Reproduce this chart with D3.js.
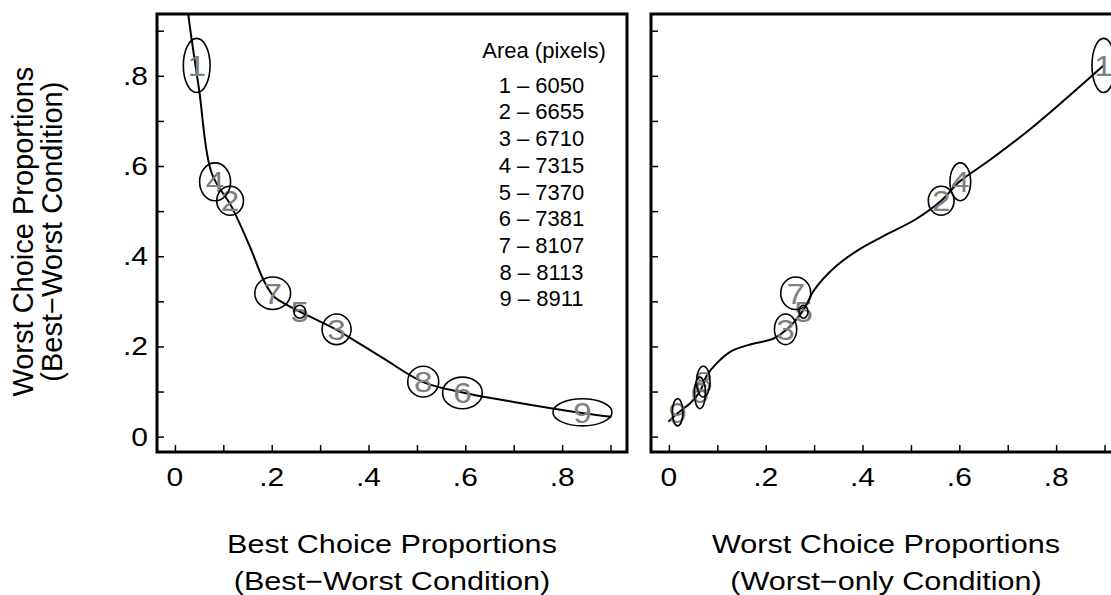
<!DOCTYPE html>
<html lang="en">
<head>
<meta charset="utf-8" />
<title>Best-worst choice proportions</title>
<script src="https://d3js.org/d3.v7.min.js"></script>
<style>
  body { margin: 0; background: #fff; }
  text { font-family: "Liberation Sans", Arial, sans-serif; fill: #000; }
</style>
</head>
<body>
<svg width="1111" height="595"></svg>
<script>
// items 1..9
const items = ["1", "2", "3", "4", "5", "6", "7", "8", "9"];
const areas = [6050, 6655, 6710, 7315, 7370, 7381, 8107, 8113, 8911];

// proportions
const bestBW    = [0.045, 0.114, 0.334, 0.083, 0.258, 0.594, 0.202, 0.513, 0.842];
const worstBW   = [0.823, 0.523, 0.238, 0.565, 0.277, 0.097, 0.318, 0.122, 0.054];
const worstOnly = [0.898, 0.5625, 0.241, 0.602, 0.278, 0.064, 0.262, 0.071, 0.018];

// ellipse half-widths (data units)
const bestBWErr    = [0.0276, 0.0276, 0.030, 0.032, 0.012, 0.041, 0.037, 0.032, 0.061];
const worstBWErr   = [0.060, 0.032, 0.034, 0.042, 0.0144, 0.035, 0.036, 0.034, 0.030];
const worstOnlyErr = [0.024, 0.0266, 0.023, 0.0214, 0.0093, 0.0114, 0.031, 0.014, 0.011];

// smooth curves
const leftCurveX = [0.022, 0.0275, 0.050, 0.076, 0.117, 0.155, 0.182, 0.205, 0.235, 0.279, 0.334, 0.430, 0.513, 0.594, 0.700, 0.844, 0.902];
const leftCurveY = [1.00, 0.937, 0.769, 0.584, 0.510, 0.421, 0.350, 0.310, 0.290, 0.266, 0.237, 0.174, 0.121, 0.098, 0.077, 0.052, 0.044];
const rightCurveX = [-0.001, 0.018, 0.045, 0.064, 0.078, 0.099, 0.130, 0.170, 0.215, 0.244, 0.278, 0.300, 0.340, 0.390, 0.440, 0.510, 0.5625, 0.600, 0.660, 0.750, 0.899];
const rightCurveY = [0.033, 0.052, 0.075, 0.100, 0.135, 0.163, 0.190, 0.205, 0.217, 0.238, 0.281, 0.325, 0.373, 0.413, 0.443, 0.482, 0.523, 0.565, 0.611, 0.685, 0.824];

const tickVals = [0, 0.1, 0.2, 0.3, 0.4, 0.5, 0.6, 0.7, 0.8, 0.9];
const labelVals = [0, 0.2, 0.4, 0.6, 0.8];
const labelText = ["0", ".2", ".4", ".6", ".8"];

const SX = 1.2; // the original is stretched horizontally

const svg = d3.select("svg");
svg.append("rect").attr("width", 1111).attr("height", 595).attr("fill", "#fff");

const y = d3.scaleLinear().domain([-0.034, 0.937]).range([452, 14]);

function htext(g, x0, y0, str, size, anchor, sx, color) {
    return g.append("text")
        .attr("transform", `translate(${x0},${y0}) scale(${sx},1)`)
        .attr("text-anchor", anchor)
        .style("font-size", size + "px")
        .style("fill", color || "#000")
        .text(str);
}

function panel(id, left, xs, xErr, cx, cy, title1, title2) {
    const x = d3.scaleLinear().domain([-0.037, 0.934]).range([left, left + 470]);
    const g = svg.append("g");

    g.append("clipPath").attr("id", id)
        .append("rect").attr("x", left).attr("y", 14).attr("width", 470).attr("height", 438);

    // ticks (inside)
    g.append("g").attr("transform", "translate(0,452)")
        .call(d3.axisBottom(x).tickValues(tickVals).tickSize(-7).tickFormat(""))
        .call(a => a.select(".domain").remove())
        .selectAll("line").attr("stroke-width", 1.5);
    g.append("g").attr("transform", `translate(${left},0)`)
        .call(d3.axisLeft(y).tickValues(tickVals).tickSize(-7).tickFormat(""))
        .call(a => a.select(".domain").remove())
        .selectAll("line").attr("stroke-width", 1.5);

    labelVals.forEach((v, i) => htext(g, x(v), 486, labelText[i], 25, "middle", SX));

    const plot = g.append("g").attr("clip-path", `url(#${id})`);

    const line = d3.line().x(d => x(d[0])).y(d => y(d[1])).curve(d3.curveCatmullRom.alpha(0.5));
    plot.append("path")
        .attr("d", line(d3.zip(cx, cy)))
        .attr("fill", "none").attr("stroke", "#000").attr("stroke-width", 2);

    items.forEach((it, i) => {
        htext(plot, x(xs[i]), y(worstBW[i]) + 10.5, it, 29, "middle", 1.15, "#7f7f7f");
    });
    items.forEach((it, i) => {
        plot.append("ellipse")
            .attr("cx", x(xs[i])).attr("cy", y(worstBW[i]))
            .attr("rx", x(xErr[i]) - x(0)).attr("ry", y(0) - y(worstBWErr[i]))
            .attr("fill", "none").attr("stroke", "#000").attr("stroke-width", 1.6);
    });

    g.append("rect").attr("x", left).attr("y", 14).attr("width", 470).attr("height", 438)
        .attr("fill", "none").attr("stroke", "#000").attr("stroke-width", 3);

    const mid = left + 235;
    htext(g, mid, 553, title1, 25.5, "middle", SX);
    htext(g, mid, 590, title2, 25.5, "middle", SX);
    return g;
}

panel("clipL", 157, bestBW, bestBWErr, leftCurveX, leftCurveY,
    "Best Choice Proportions", "(Best\u2212Worst Condition)");
panel("clipR", 651, worstOnly, worstOnlyErr, rightCurveX, rightCurveY,
    "Worst Choice Proportions", "(Worst\u2212only Condition)");

// y tick labels (left panel only)
labelVals.forEach((v, i) => htext(svg, 148, y(v) + 9, labelText[i], 25, "end", SX));

// y title
const yt = svg.append("g").attr("transform", `translate(0,${y(0.45) - 2})`);
yt.append("text").attr("transform", "translate(33,0) rotate(-90)")
    .attr("text-anchor", "middle").style("font-size", "29px").text("Worst Choice Proportions");
yt.append("text").attr("transform", "translate(62,0) rotate(-90)")
    .attr("text-anchor", "middle").style("font-size", "29px").text("(Best\u2212Worst Condition)");

// legend
const lg = svg.append("g");
lg.append("text").attr("x", 544).attr("y", 58).attr("text-anchor", "middle")
    .style("font-size", "22px").text("Area (pixels)");
items.forEach((it, i) => {
    lg.append("text").attr("x", 541.5).attr("y", 92.7 + i * 26.7).attr("text-anchor", "middle")
        .style("font-size", "22px").text(it + " \u2013 " + areas[i]);
});
</script>
</body>
</html>
